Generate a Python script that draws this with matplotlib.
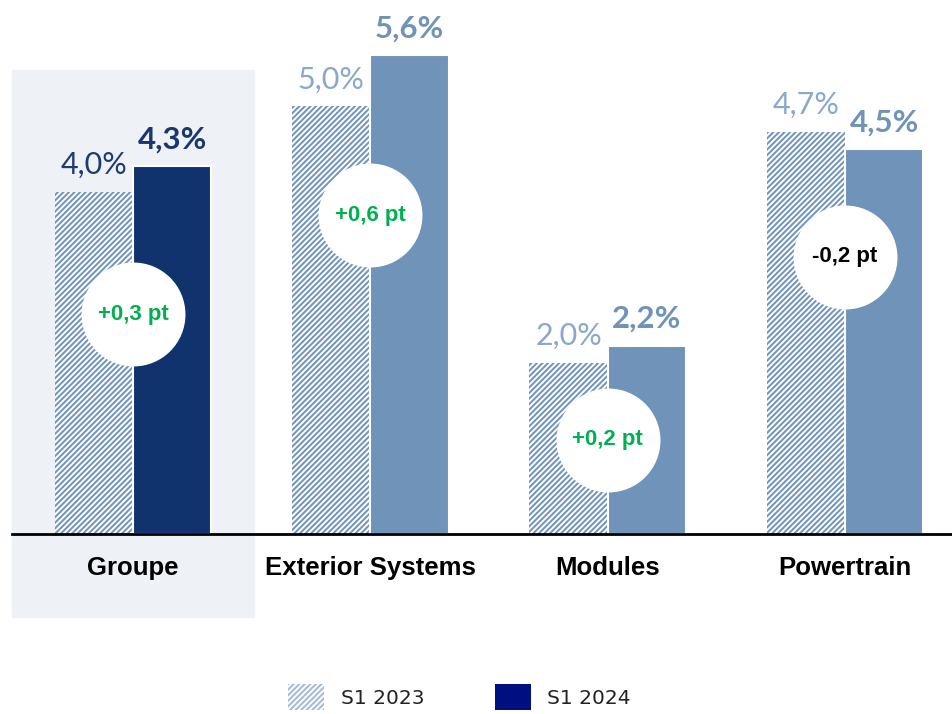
import matplotlib.pyplot as plt
from matplotlib.patches import Rectangle, Patch

categories = ['Groupe', 'Exterior Systems', 'Modules', 'Powertrain']
s1_2023 = [4.0, 5.0, 2.0, 4.7]
s1_2024 = [4.3, 5.6, 2.2, 4.5]
labels_2023 = ['4,0%', '5,0%', '2,0%', '4,7%']
labels_2024 = ['4,3%', '5,6%', '2,2%', '4,5%']
deltas = ['+0,3 pt', '+0,6 pt', '+0,2 pt', '-0,2 pt']
delta_y = [2.57, 3.73, 1.10, 3.24]
legend_labels = ['S1 2023', 'S1 2024']

hatch_col = '#7395bb'
solid_cols = ['#10336e', '#6f93b9', '#6f93b9', '#6f93b9']
lbl23_cols = ['#1f3b73', '#8aa8cc', '#8aa8cc', '#8aa8cc']
lbl24_cols = ['#1a3670', '#6f93b9', '#6f93b9', '#6f93b9']
delta_cols = ['#00b050', '#00b050', '#00b050', '#000000']

plt.rcParams['hatch.linewidth'] = 1.45

fig = plt.figure(figsize=(9.53, 7.14), dpi=100)
ax = fig.add_axes([0, 0, 1, 1])
ax.set_xlim(-0.5604, 3.455)
ax.set_ylim(-2.105, 6.245)
ax.axis('off')

# fond gris derrière Groupe
ax.add_patch(Rectangle((-0.51, -0.97), 1.02, 6.4, color='#eef2f6', zorder=0))

w = 0.33
x = range(len(categories))
for i in x:
    ax.bar(i - w / 2, s1_2023[i], width=w, color='white', edgecolor=hatch_col,
           hatch='//////', linewidth=0, zorder=2)
    ax.bar(i + w / 2, s1_2024[i], width=w, color=solid_cols[i], edgecolor='white',
           linewidth=1.5, zorder=3)
    ax.annotate(labels_2023[i], (i - w / 2, s1_2023[i]), xytext=(0, 13), textcoords='offset points',
                ha='center', va='baseline', fontsize=22, color=lbl23_cols[i], family='Lato')
    ax.annotate(labels_2024[i], (i + w / 2, s1_2024[i]), xytext=(0, 13), textcoords='offset points',
                ha='center', va='baseline', fontsize=22.5, fontweight='bold', color=lbl24_cols[i],
                family='Lato')
    ax.scatter(i, delta_y[i], s=5600, color='white', zorder=4, linewidths=0)
    ax.text(i, delta_y[i], deltas[i], ha='center', va='center', fontsize=16, fontweight='bold',
            color=delta_cols[i], zorder=5, family='Liberation Sans')
    ax.text(i, -0.40, categories[i], ha='center', va='center', fontsize=18.5, fontweight='bold',
            color='black', family='Liberation Sans')

ax.axhline(0, xmin=0.0126, xmax=1, color='black', linewidth=2, zorder=6)

handles = [Patch(facecolor='white', edgecolor='#a3bbd8', hatch='//////', linewidth=0),
           Patch(facecolor='#000f80', edgecolor='none')]
fig.legend(handles, legend_labels, loc='lower center', ncol=2, frameon=False, fontsize=14.5,
           handlelength=1.8, handleheight=1.6, columnspacing=3.5, handletextpad=0.8,
           bbox_to_anchor=(0.482, -0.02), labelcolor='#222222')

fig.savefig('out.png', dpi=100)
